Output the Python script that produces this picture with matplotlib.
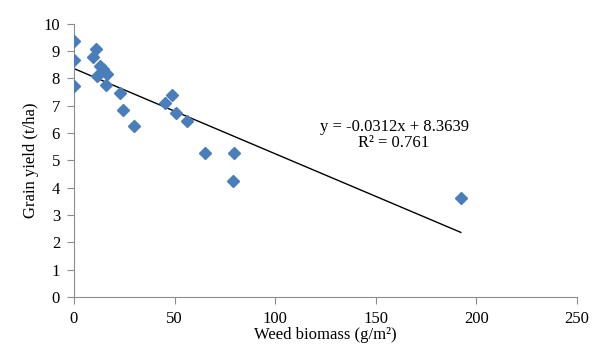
import numpy as np
import matplotlib
matplotlib.use("Agg")
import matplotlib.pyplot as plt

# ---------- Data ----------
weed_biomass = [0, 0, 0, 10.9, 9.3, 12.9, 14.6, 11.3, 16.6, 15.9,
                22.9, 24.2, 29.8, 45.2, 48.9, 50.5, 56.3, 65.4, 79.5, 78.9, 192.3]
grain_yield = [9.36, 8.68, 7.74, 9.07, 8.77, 8.46, 8.34, 8.10, 8.16, 7.77,
               7.46, 6.85, 6.26, 7.12, 7.41, 6.75, 6.46, 5.26, 5.26, 4.26, 3.63]

SLOPE = -0.0312
INTERCEPT = 8.3639
R2 = 0.761

x_ticks = [0, 50, 100, 150, 200, 250]
y_ticks = list(range(0, 11))

# ---------- Style ----------
POINT = "#4a7ebb"
AXIS = "#8c8c8c"

plt.rcParams.update({
    "font.family": ["Liberation Serif", "DejaVu Serif"],
    "font.size": 12,
})

fig = plt.figure(figsize=(5.96, 3.51), dpi=100)
ax = fig.add_axes([0.124, 0.154, 0.844, 0.778])

ax.plot(weed_biomass, grain_yield, linestyle="none", marker="D",
        markersize=6.5, color=POINT, markeredgecolor=POINT, zorder=3)

# linear trendline over the data range
fit_x = np.array([min(weed_biomass), max(weed_biomass)])
ax.plot(fit_x, SLOPE * fit_x + INTERCEPT, color="black", linewidth=1.0, zorder=2)

ax.text(0.637, 0.623, f"y = {SLOPE}x + {INTERCEPT}", transform=ax.transAxes,
        ha="center", va="center")
ax.text(0.635, 0.564, f"R² = {R2}", transform=ax.transAxes,
        ha="center", va="center")

ax.set_xlim(0, 250)
ax.set_ylim(0, 10)
ax.set_xticks(x_ticks)
ax.set_yticks(y_ticks)

for side in ("top", "right"):
    ax.spines[side].set_visible(False)
for side in ("left", "bottom"):
    ax.spines[side].set_color(AXIS)
ax.tick_params(direction="out", length=5, color=AXIS, labelsize=12, pad=5)

ax.set_xlabel("Weed biomass (g/m²)", labelpad=0)
ax.set_ylabel("Grain yield (t/ha)", labelpad=3)

fig.savefig("out.png", dpi=100)
